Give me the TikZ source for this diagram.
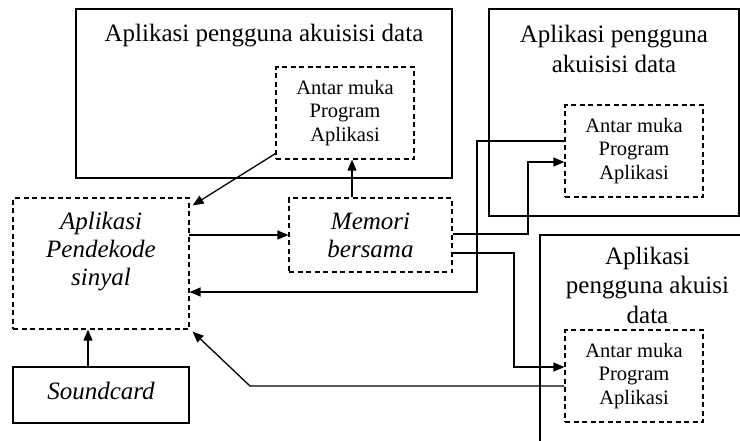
\documentclass[tikz,border=0pt]{standalone}
\usepackage{fontspec}
\setmainfont{Liberation Serif}
\usetikzlibrary{arrows.meta}
\newcommand\TitleFont{\fontsize{25}{30}\selectfont}
\newcommand\TitleFontB{\fontsize{25}{29.5}\selectfont}
\newcommand\InnerFont{\fontsize{20.5}{23.5}\selectfont}
\newcommand\ItFont{\fontsize{25}{28}\selectfont\itshape}
\begin{document}
\begin{tikzpicture}[x=1pt,y=-1pt,
  solidbox/.style={draw, line width=1.3pt, inner sep=0pt},
  dbox/.style={draw, line width=1.2pt, dash pattern=on 5pt off 3.5pt, inner sep=0pt, align=center},
  txt/.style={inner sep=0pt, align=center},
  arr/.style={line width=1.3pt, -{Triangle[length=11pt,width=9pt]}},
  ln/.style={line width=1.3pt}]
\useasboundingbox (0,0) rectangle (740,440);
\clip (0,0) rectangle (740,440);
% outer application boxes
\node[solidbox, minimum width=376pt, minimum height=169pt] (app1) at (264,93.5) {};
\node[solidbox, minimum width=250pt, minimum height=207pt] (app2) at (614,112.5) {};
\node[solidbox, minimum width=215pt, minimum height=240pt] (app3) at (647.5,355) {};
% titles
\node[txt, font=\TitleFont, anchor=base] (t1) at (264,41) {Aplikasi pengguna akuisisi data};
\node[txt, font=\TitleFont] (t2) at (614,48.5) {Aplikasi pengguna\\akuisisi data};
\node[txt, font=\TitleFontB] (t3) at (647.5,285) {Aplikasi\\pengguna akuisi\\data};
% API boxes
\node[dbox, font=\InnerFont, minimum width=138pt, minimum height=92pt] (api1) at (345,113) {Antar muka\\Program\\Aplikasi};
\node[dbox, font=\InnerFont, minimum width=138pt, minimum height=92pt] (api2) at (634,151) {Antar muka\\Program\\Aplikasi};
\node[dbox, font=\InnerFont, minimum width=138pt, minimum height=92pt] (api3) at (634,376) {Antar muka\\Program\\Aplikasi};
% decoder, memory, soundcard
\node[dbox, minimum width=176pt, minimum height=131pt] (pdk) at (101,263.5) {};
\node[txt, font=\ItFont] (pdktxt) at (101,252) {Aplikasi\\Pendekode\\sinyal};
\node[dbox, font=\ItFont, minimum width=163pt, minimum height=74pt, text depth=0pt] (mem) at (370.5,235) {Memori\\bersama};
\node[solidbox, minimum width=176pt, minimum height=56pt] (sc) at (101,395) {};
\node[txt, font=\ItFont] (sctxt) at (101,390.5) {Soundcard};
% helper coordinates
\coordinate (c2) at (352,0);
\coordinate (c8) at (88,0);
\coordinate (c4) at (528,162);
\coordinate (c5) at (477,292);
\coordinate (c6) at (514,367);
\coordinate (c7) at (250,386);
\coordinate (p3) at (189,235);
% connectors
\draw[arr] ([yshift=6pt]api1.south west) -- ([xshift=3pt,yshift=-8pt]pdk.north east);
\draw[arr] (mem.north -| c2) -- (api1.south -| c2);
\draw[arr] (p3) -- (p3 -| mem.west);
\draw[arr] ([yshift=1pt]mem.east) -| (c4) -- (c4 -| api2.west);
\draw[arr] ([yshift=10pt]api2.west) -| (c5) -- (c5 -| pdk.east);
\draw[arr] ([yshift=-18pt]mem.east) -| (c6) -- (c6 -| api3.west);
\draw[arr] ([yshift=-10pt]api3.west) -- (c7) -- ([xshift=3pt,yshift=-2pt]pdk.south east);
\draw[arr] (sc.north -| c8) -- (pdk.south -| c8);
\end{tikzpicture}
\end{document}
